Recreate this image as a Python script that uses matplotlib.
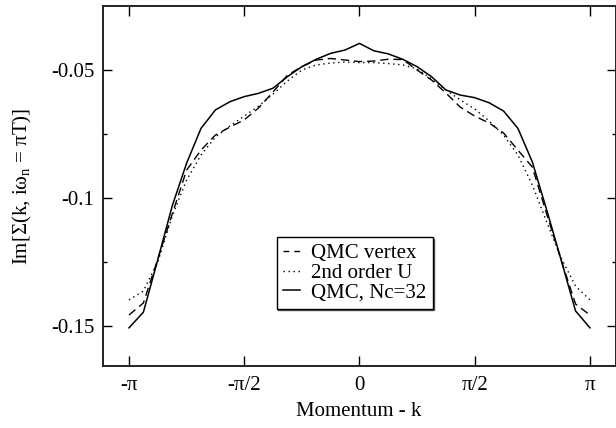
import numpy as np
import matplotlib
matplotlib.use("Agg")
import matplotlib.pyplot as plt

# momentum grid, Nc=32 cluster points from -pi to pi
k = np.linspace(-np.pi, np.pi, 33)

qmc_vertex = [-0.1457, -0.1410, -0.1238, -0.1063, -0.0891, -0.0813, -0.0754, -0.0723,
              -0.0695, -0.0648, -0.0586, -0.0520, -0.0487, -0.0461, -0.0455, -0.0461,
              -0.0467, -0.0465, -0.0458, -0.0459, -0.0500, -0.0539, -0.0590, -0.0645,
              -0.0680, -0.0707, -0.0746, -0.0813, -0.0879, -0.1063, -0.1242, -0.1414,
              -0.1457]

second_order = [-0.1398, -0.1363, -0.1250, -0.1070, -0.0930, -0.0832, -0.0762, -0.0719,
                -0.0680, -0.0641, -0.0594, -0.0543, -0.0500, -0.0480, -0.0473, -0.0469,
                -0.0471, -0.0471, -0.0475, -0.0480, -0.0496, -0.0535, -0.0578, -0.0617,
                -0.0652, -0.0699, -0.0754, -0.0832, -0.0949, -0.1094, -0.1234, -0.1344,
                -0.1398]

qmc_nc32 = [-0.1507, -0.1446, -0.1241, -0.1031, -0.0864, -0.0728, -0.0656, -0.0624,
            -0.0604, -0.0591, -0.0571, -0.0526, -0.0487, -0.0458, -0.0435, -0.0422,
            -0.0396, -0.0425, -0.0437, -0.0458, -0.0487, -0.0526, -0.0578, -0.0598,
            -0.0608, -0.0628, -0.0660, -0.0728, -0.0859, -0.1047, -0.1242, -0.1441,
            -0.1507]

xticks = [-np.pi, -np.pi / 2, 0, np.pi / 2, np.pi]
xtick_labels = ['-π', '-π/2', '0', 'π/2', 'π']
yticks = [-0.15, -0.1, -0.05]
ytick_labels = ['-0.15', '-0.1', '-0.05']

plt.rcParams['font.family'] = ['Liberation Serif', 'DejaVu Serif']
plt.rcParams['mathtext.fontset'] = 'custom'
plt.rcParams['mathtext.rm'] = 'Liberation Serif'
plt.rcParams['mathtext.it'] = 'Liberation Serif'

fig = plt.figure(figsize=(6.16, 4.28), dpi=100)
ax = fig.add_axes([0.1667, 0.1449, 0.8325, 0.8411])

ax.plot(k, qmc_vertex, color='black', lw=1.0, dashes=(6, 3.5), label='QMC vertex')
ax.plot(k, second_order, color='black', lw=1.0, dashes=(1, 2.6), label='2nd order U')
ax.plot(k, qmc_nc32, color='black', lw=1.1, label='QMC, Nc=32')

ax.set_xlim(-3.50, 3.49)
ax.set_ylim(-0.1656, -0.025)
ax.set_xticks(xticks)
ax.set_xticklabels(xtick_labels)
ax.set_yticks(yticks)
ax.set_yticklabels(ytick_labels)
ax.set_yticks([-0.125, -0.075], minor=True)

ax.tick_params(which='both', direction='in', top=True, right=True, labelsize=15, width=1.0)
ax.tick_params(axis='x', which='major', length=7, pad=7)
ax.tick_params(axis='y', which='major', length=6.5, pad=6)
ax.tick_params(axis='y', which='minor', length=3.2)
for s in ax.spines.values():
    s.set_linewidth(1.4)
    s.set_color('#222222')

ax.set_xlabel('Momentum - k', fontsize=15, labelpad=5)
ax.set_ylabel(r'Im[$\Sigma$(k, i$\omega_n$ = $\pi$T)]', fontsize=15, labelpad=12)

leg = ax.legend(loc='upper left', bbox_to_anchor=(0.339, 0.357), fontsize=15,
                frameon=True, fancybox=False, handlelength=0.82, handletextpad=0.55,
                labelspacing=0.0, borderpad=0.3, borderaxespad=0.0,
                shadow={'ox': 1.2, 'oy': -1.2, 'color': '#555555', 'alpha': 1.0})
leg.get_frame().set_edgecolor('black')
leg.get_frame().set_linewidth(1.0)
leg.get_frame().set_alpha(1.0)
# shorter dashes in the legend key so two dashes show, as in the original
leg.get_lines()[0].set_dashes((4.2, 3.6))

plt.savefig('out.png', dpi=100)
plt.close()
